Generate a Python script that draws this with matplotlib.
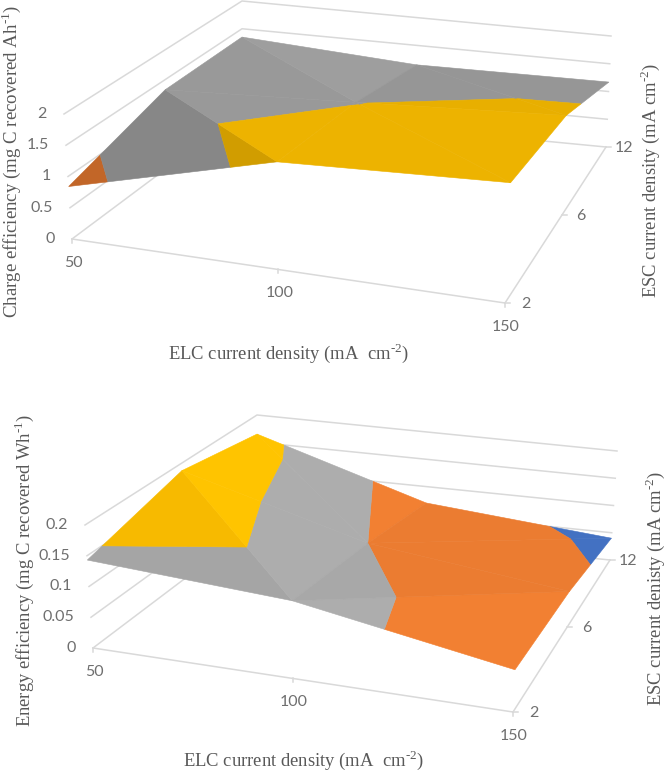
import numpy as np
import matplotlib
matplotlib.use('Agg')
import matplotlib.pyplot as plt
from matplotlib.patches import Polygon

plt.rcParams['mathtext.fontset'] = 'custom'
plt.rcParams['mathtext.rm'] = 'Liberation Serif'

# Data
elc_labels = ['50', '100', '150']
esc_labels = ['2', '6', '12']

# rows = ESC 2, 6, 12 ; columns = ELC 50, 100, 150
charge_eff = [[0.84, 1.69, 1.85],
              [1.33, 1.49, 1.675],
              [1.35, 1.15, 1.17]]
energy_eff = [[0.143, 0.124, 0.066],
              [0.187, 0.100, 0.060],
              [0.165, 0.070, 0.040]]

charge_ticks = [0, 0.5, 1, 1.5, 2]
charge_tick_labels = ['0', '0.5', '1', '1.5', '2']
energy_ticks = [0, 0.05, 0.1, 0.15, 0.2]
energy_tick_labels = ['0', '0.05', '0.1', '0.15', '0.2']

GRID = '#d9d9d9'
TICK = '#6f6f6f'
TITLE = '#595959'
SANS = 'Lato'
SERIF = 'Liberation Serif'

# Pixel position of the box corners: floor (fl, fr, bl, br) then top of the walls
top_box = {'floor': [(72, 239), (505, 303), (242, 112), (606, 147)],
           'roof': [(64, 114), (511, 173), (242, 1), (611, 36)]}
bottom_box = {'floor': [(93, 648), (513, 712), (257, 524), (610, 560)],
              'roof': [(85, 525), (519, 584), (257, 415), (617, 451)]}


# Category positions are foreshortened by the perspective
def warp(t, k):
    return t / (t + k * (1 - t))


def project(box, zmax, i, j, z):
    u = warp(i / 2, 1.10)
    v = warp(j / 2, 0.78)
    w = z / zmax
    out = []
    for corners in (box['floor'], box['roof']):
        c = np.array(corners, dtype=float)
        out.append((1 - v) * ((1 - u) * c[0] + u * c[1]) + v * ((1 - u) * c[2] + u * c[3]))
    return (1 - w) * out[0] + w * out[1]


# Keep the part of a polygon (x, y, z) on one side of a z level
def clip(poly, level, keep_above):
    result = []
    for n in range(len(poly)):
        a, b = poly[n], poly[(n + 1) % len(poly)]
        a_in = a[2] >= level if keep_above else a[2] <= level
        b_in = b[2] >= level if keep_above else b[2] <= level
        if a_in:
            result.append(a)
        if a_in != b_in:
            t = (level - a[2]) / (b[2] - a[2])
            result.append(a + t * (b - a))
    return result


def shaded(color, factor):
    rgb = np.array(matplotlib.colors.to_rgb(color)) * factor
    return tuple(np.clip(rgb, 0, 1))


def draw_surface(ax, box, values, ticks, tick_labels, colors, anti, shades):
    zmax = ticks[-1]
    values = np.array(values)

    # walls and floor
    for z in ticks:
        p = [project(box, zmax, *c, z) for c in ((0, 0), (0, 2), (2, 2))]
        ax.plot([q[0] for q in p], [q[1] for q in p], color=GRID, lw=1.1, zorder=1)
    p = [project(box, zmax, *c, 0) for c in ((0, 0), (2, 0), (2, 2))]
    ax.plot([q[0] for q in p], [q[1] for q in p], color=GRID, lw=1.1, zorder=1)

    # tick marks and tick labels
    for i, lab in enumerate(elc_labels):
        q = project(box, zmax, i, 0, 0)
        ax.plot([q[0], q[0]], [q[1], q[1] + 4], color=GRID, lw=1.1, zorder=1)
        ax.text(q[0] + 1, q[1] + 24, lab, family=SANS, fontsize=11.5, color=TICK, ha='center', va='center')
    for j, lab in enumerate(esc_labels):
        q = project(box, zmax, 2, j, 0)
        ax.plot([q[0], q[0] + 5], [q[1], q[1]], color=GRID, lw=1.1, zorder=1)
        ax.text(q[0] + 21 - 1.5 * j, q[1] + 1, lab, family=SANS, fontsize=11.5, color=TICK, ha='center', va='center')
    for z, lab in zip(ticks, tick_labels):
        q = project(box, zmax, 0, 0, z)
        ax.text(q[0] - 17, q[1], lab, family=SANS, fontsize=11.5, color=TICK, ha='right', va='center')

    # surface, back row first; each cell is two flat triangles
    for j in (1, 0):
        for i in (0, 1):
            if anti[j][i]:
                tris = [((i, j), (i + 1, j), (i, j + 1)), ((i + 1, j), (i + 1, j + 1), (i, j + 1))]
            else:
                tris = [((i, j), (i + 1, j), (i + 1, j + 1)), ((i, j), (i + 1, j + 1), (i, j + 1))]
            for tri, factor in zip(tris, shades[j][i]):
                pts = [np.append(project(box, zmax, a, b, values[b][a]), values[b][a]) for a, b in tri]
                for k, color in enumerate(colors):
                    part = clip(pts, ticks[k], True)
                    if part:
                        part = clip(part, ticks[k + 1], False)
                    if len(part) >= 3:
                        c = shaded(color, factor)
                        ax.add_patch(Polygon([q[:2] for q in part], closed=True, fc=c, ec=c, lw=0.4, zorder=3))


fig = plt.figure(figsize=(6.66, 7.71), dpi=100)
ax = fig.add_axes([0, 0, 1, 1])
ax.set_xlim(0, 666)
ax.set_ylim(771, 0)
ax.axis('off')

draw_surface(ax, top_box, charge_eff, charge_ticks, charge_tick_labels,
             ['#4472c4', '#ed7d31', '#a5a5a5', '#ffc000'],
             [[True, True], [True, True]],
             [[(0.82, 0.93), (0.93, 0.93)], [(0.93, 0.96), (0.91, 0.91)]])
draw_surface(ax, bottom_box, energy_eff, energy_ticks, energy_tick_labels,
             ['#4472c4', '#ed7d31', '#aaaaaa', '#ffc000'],
             [[True, False], [True, False]],
             [[(0.97, 1.02), (1.02, 0.99)], [(1.02, 1.02), (0.99, 0.99)]])

# Axis titles
title_kw = dict(family=SERIF, color=TITLE, ha='center')
sup1 = r'$^{\text{-1}}$'
sup2 = r'$^{\text{-2}}$'
ax.text(11, 161, 'Charge efficiency (mg C recovered Ah' + sup1 + ')', rotation=90, fontsize=13.6, va='center', **title_kw)
ax.text(288, 359, 'ELC current density (mA  cm' + sup2 + ')', fontsize=13.4, va='baseline', **title_kw)
ax.text(650, 180, 'ESC current density (mA cm' + sup2 + ')', rotation=90, fontsize=13.4, va='center', **title_kw)
ax.text(24, 570, 'Energy efficiency (mg C recovered Wh' + sup1 + ')', rotation=90, fontsize=13.4, va='center', **title_kw)
ax.text(303, 766, 'ELC current density (mA  cm' + sup2 + ')', fontsize=13.4, va='baseline', **title_kw)
ax.text(655, 588, 'ESC current denisty (mA cm' + sup2 + ')', rotation=90, fontsize=13.4, va='center', **title_kw)

fig.savefig('out.png', dpi=100)
